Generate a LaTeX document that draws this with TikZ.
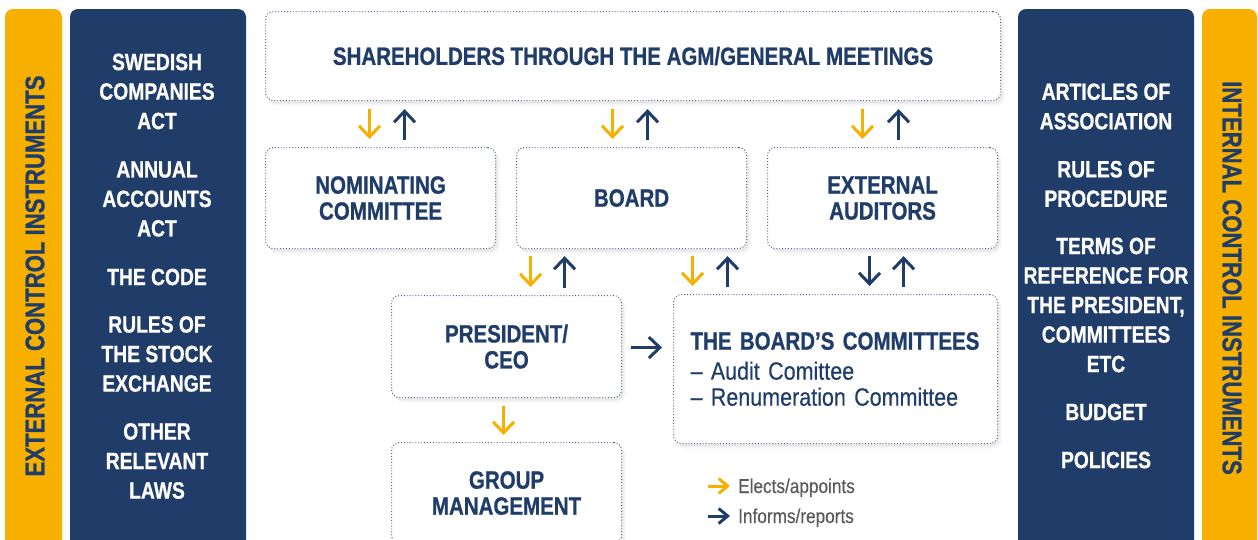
\documentclass[tikz,border=0pt]{standalone}
\usepackage{fontspec}
\setmainfont{Liberation Sans}[FakeStretch=0.82, BoldFeatures={FakeBold=0.8}]
\newfontfamily\regc{Liberation Sans}[FakeStretch=0.86, FakeBold=0.3]
\usetikzlibrary{arrows.meta,calc,shadows}
\definecolor{yel}{HTML}{F8B000}
\definecolor{navy}{HTML}{203D6A}
\definecolor{dotc}{HTML}{56678A}
\definecolor{legc}{HTML}{5A5A5A}
\begin{document}
\begin{tikzpicture}[x=1pt,y=-1pt,
  box/.style={draw=dotc, line width=1.1pt, dash pattern=on 0.9pt off 2pt,
    rounded corners=8pt, fill=white, anchor=north west, inner sep=0pt,
    align=center, text=navy, font=\bfseries\fontsize{25}{26}\selectfont,
    general shadow={fill=black,opacity=0.05,shadow xshift=2pt,shadow yshift=-3pt},
    general shadow={fill=black,opacity=0.035,shadow xshift=4pt,shadow yshift=-5pt}},
  stdbox/.style={box, minimum width=230pt, minimum height=101pt},
  bartext/.style={text=white, align=center, inner sep=0pt,
    font=\bfseries\fontsize{23.5}{29.5}\selectfont},
  sidetext/.style={text=navy, inner sep=0pt, font=\bfseries\fontsize{27}{30}\selectfont},
  ya/.style={draw=yel, line width=3pt, -{Straight Barb[length=11pt,width=21pt]}},
  ba/.style={draw=navy, line width=3pt, -{Straight Barb[length=11pt,width=21pt]}},
  yal/.style={draw=yel, line width=3pt, -{Straight Barb[length=9pt,width=15pt]}},
  bal/.style={draw=navy, line width=3pt, -{Straight Barb[length=9pt,width=15pt]}},
  legtext/.style={anchor=base west, inner sep=0pt, text=legc,
    font=\regc\fontsize{20}{22}\selectfont}]
\clip (0,0) rectangle (1258,539);
\fill[white] (0,0) rectangle (1258,539);
% side bars
\fill[yel, rounded corners=8pt] (5,9) rectangle (62,570);
\fill[navy, rounded corners=8pt] (70,9) rectangle (246,570);
\fill[navy, rounded corners=8pt] (1018,9) rectangle (1194,570);
\fill[yel, rounded corners=8pt] (1202,9) rectangle (1257,570);
\node[sidetext, rotate=90] (ext) at (35,276) {EXTERNAL CONTROL INSTRUMENTS};
\node[sidetext, rotate=-90] (int) at (1232,278) {INTERNAL CONTROL INSTRUMENTS};
% left bar texts
\node[bartext] (l1) at (157,91.5) {SWEDISH\\COMPANIES\\ACT};
\node[bartext] (l2) at (157,199) {ANNUAL\\ACCOUNTS\\ACT};
\node[bartext] (l3) at (157,277) {THE CODE};
\node[bartext] (l4) at (157,354) {RULES OF\\THE STOCK\\EXCHANGE};
\node[bartext] (l5) at (157,461) {OTHER\\RELEVANT\\LAWS};
% right bar texts
\node[bartext] (r1) at (1106,106.5) {ARTICLES OF\\ASSOCIATION};
\node[bartext] (r2) at (1106,184) {RULES OF\\PROCEDURE};
\node[bartext] (r3) at (1106,305) {TERMS OF\\REFERENCE FOR\\THE PRESIDENT,\\COMMITTEES\\ETC};
\node[bartext] (r4) at (1106,412) {BUDGET};
\node[bartext] (r5) at (1106,460) {POLICIES};
% boxes
\node[box, minimum width=735pt, minimum height=89pt] (sh) at (265,11) {SHAREHOLDERS THROUGH THE AGM/GENERAL MEETINGS};
\node[stdbox] (nom) at (265,147) {NOMINATING\\COMMITTEE};
\node[stdbox] (board) at (516,147) {BOARD};
\node[stdbox] (aud) at (767,147) {EXTERNAL\\AUDITORS};
\node[stdbox, minimum height=102pt] (pres) at (391,295) {PRESIDENT/\\CEO};
\node[box, text width=290pt, inner xsep=17pt, minimum height=149pt, align=left] (com) at (673,294)
  {THE BOARD’S COMMITTEES\\[4pt]{\regc\mdseries – Audit Comittee}\\{\regc\mdseries – Renumeration Committee}};
\node[stdbox] (grp) at (391,442) {GROUP\\MANAGEMENT};
% arrows row 1
\draw[ya] ($(sh.south -| nom.north)+(-11,8)$) -- ($(nom.north)+(-11,-8)$);
\draw[ba] ($(nom.north)+(24,-7)$) -- ($(sh.south -| nom.north)+(24,8)$);
\draw[ya] ($(sh.south -| board.north)+(-19,8)$) -- ($(board.north)+(-19,-8)$);
\draw[ba] ($(board.north)+(16,-7)$) -- ($(sh.south -| board.north)+(16,8)$);
\draw[ya] ($(sh.south -| aud.north)+(-20,8)$) -- ($(aud.north)+(-20,-8)$);
\draw[ba] ($(aud.north)+(16,-7)$) -- ($(sh.south -| aud.north)+(16,8)$);
% arrows row 2
\draw[ya] ($(board.south -| pres.north)+(24,7)$) -- ($(pres.north)+(24,-8)$);
\draw[ba] ($(pres.north)+(58,-7)$) -- ($(board.south -| pres.north)+(58,7)$);
\draw[ya] ($(board.south)+(61,7)$) -- ($(com.north -| board.south)+(61,-8)$);
\draw[ba] ($(com.north -| board.south)+(96,-7)$) -- ($(board.south)+(96,7)$);
\draw[ba] ($(aud.south)+(-13,7)$) -- ($(com.north -| aud.south)+(-13,-8)$);
\draw[ba] ($(com.north -| aud.south)+(21,-7)$) -- ($(aud.south)+(21,7)$);
% arrows row 3
\draw[ba] ($(pres.east)+(9,1)$) -- ($(pres.east -| com.west)+(-11,1)$);
\draw[ya] ($(pres.south)+(-3,8)$) -- ($(grp.north)+(-3,-7)$);
% legend
\node[legtext] (le1) at (738,493) {Elects/appoints};
\node[legtext] (le2) at (738,523) {Informs/reports};
\draw[yal] ($(le1.base west)+(-30,-7)$) -- ($(le1.base west)+(-8,-7)$);
\draw[bal] ($(le2.base west)+(-30,-7)$) -- ($(le2.base west)+(-8,-7)$);
\end{tikzpicture}
\end{document}
